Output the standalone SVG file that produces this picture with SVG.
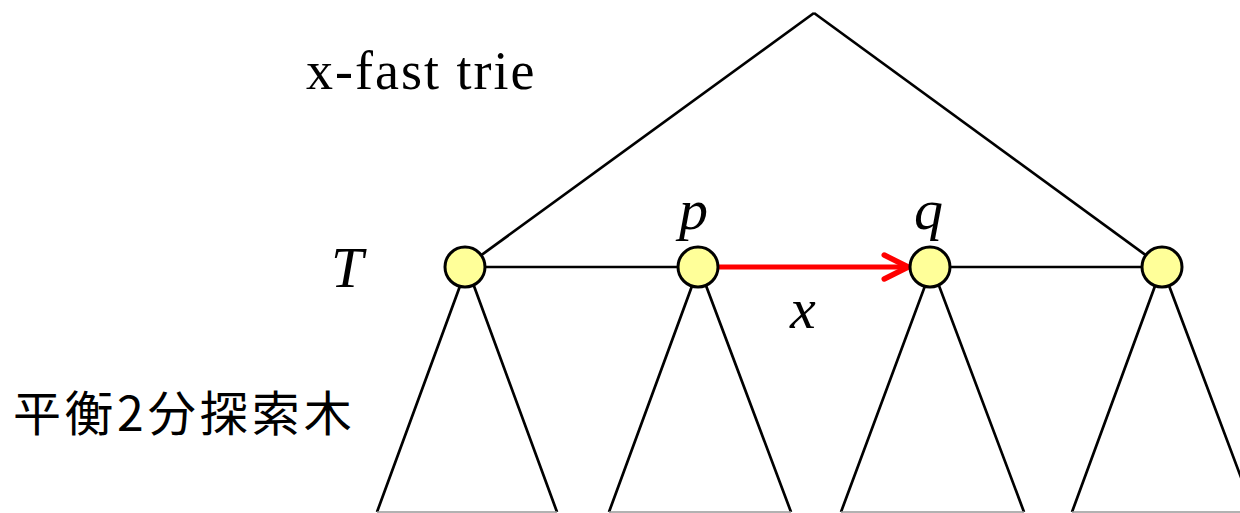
<svg xmlns="http://www.w3.org/2000/svg" width="1240" height="513" viewBox="0 0 1240 513">
<style>
.e{stroke:#000;stroke-width:2.7;fill:none}
.b{stroke:#999;stroke-width:1.5}
.n{fill:#ffff99;stroke:#000;stroke-width:3}
.t{font-family:"Liberation Serif",serif;fill:#000}
.i{font-style:italic;font-size:58px}
</style>
<defs>
<marker id="ah" viewBox="0 0 10 10" refX="8.6" refY="5" markerWidth="6" markerHeight="6" orient="auto" markerUnits="strokeWidth">
<path d="M1,1 L9,5 L1,9" fill="none" stroke="#f00" stroke-width="1.8" stroke-linecap="round" stroke-linejoin="round"/>
</marker>
</defs>
<g id="connectors">
<line class="e" x1="814" y1="13" x2="465" y2="267"/>
<line class="e" x1="814" y1="13" x2="1162" y2="267"/>
<line class="e" x1="465" y1="267" x2="1162" y2="267"/>
<polyline class="e" points="377,512 467,267 557,512"/>
<polyline class="e" points="609,512 699,267 791,512"/>
<polyline class="e" points="841,512 932,267 1024,512"/>
<polyline class="e" points="1072,512 1162,267 1254,512"/>
<line class="b" x1="377" y1="512" x2="557" y2="512"/>
<line class="b" x1="609" y1="512" x2="791" y2="512"/>
<line class="b" x1="841" y1="512" x2="1024" y2="512"/>
<line class="b" x1="1072" y1="512" x2="1240" y2="512"/>
<line x1="718" y1="267" x2="907" y2="267" stroke="#f00" stroke-width="5" marker-end="url(#ah)"/>
</g>
<g id="n1"><circle class="n" cx="465" cy="267" r="20"/></g>
<g id="n2"><circle class="n" cx="698" cy="267" r="20"/></g>
<g id="n3"><circle class="n" cx="930" cy="267" r="20"/></g>
<g id="n4"><circle class="n" cx="1162" cy="267" r="20"/></g>
<g id="labels">
<text class="t" x="306" y="89" font-size="54" letter-spacing="2">x-fast trie</text>
<text class="t i" x="331" y="287">T</text>
<text class="t i" x="679" y="229">p</text>
<text class="t i" x="914" y="229">q</text>
<text class="t i" x="790" y="328">x</text>
<text x="13" y="431" font-family="'Noto Sans CJK JP',sans-serif" font-size="48" letter-spacing="4" fill="#000">平衡2分探索木</text>
</g>
</svg>
